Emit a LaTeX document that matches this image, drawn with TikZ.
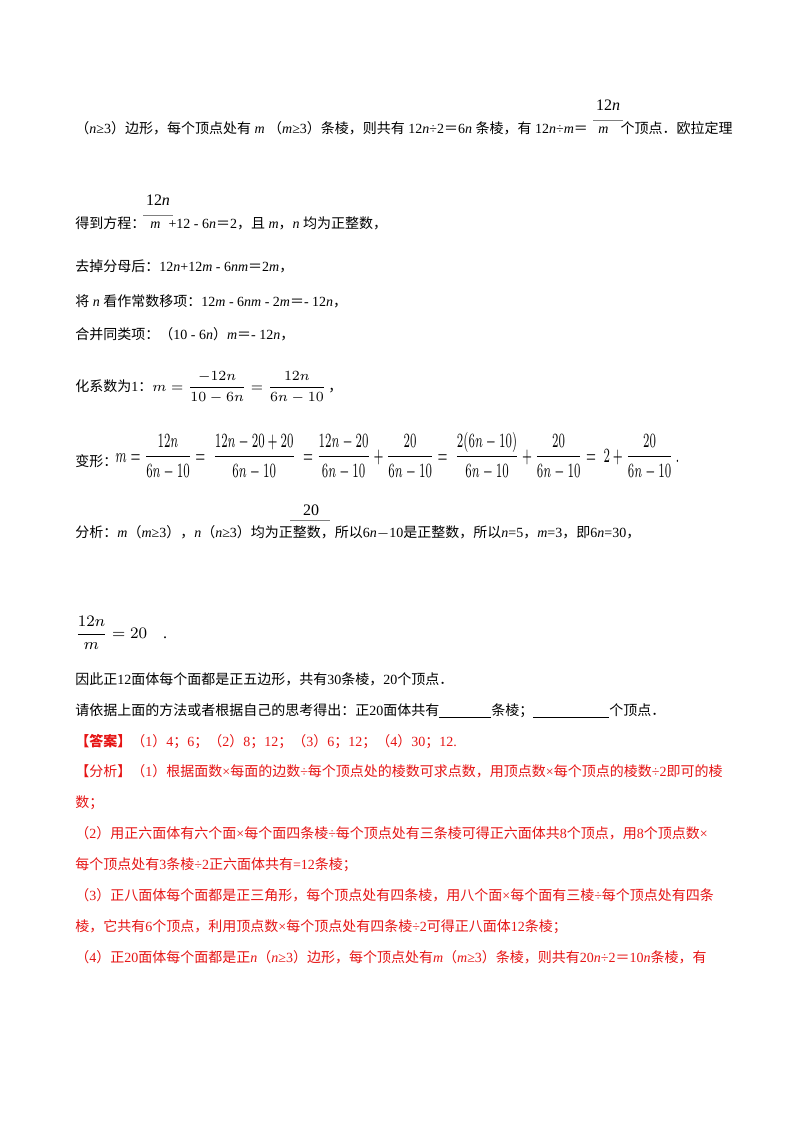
\documentclass[tikz,border=0pt]{standalone}
\usepackage{fontspec}
\usepackage{amsmath}
\usepackage{graphicx}
\setmainfont{Liberation Serif}
\newfontfamily\cjk{Noto Sans CJK SC}
\definecolor{ansred}{RGB}{230,20,20}
\newcommand{\ii}[1]{\textit{#1}}
\newcommand{\eqq}{{\cjk ＝}}
\begin{document}
\begin{tikzpicture}[x=0.5pt,y=-0.5pt,
  tl/.style={anchor=base west,inner sep=0pt,font=\fontsize{7}{8}\selectfont},
  rl/.style={tl,text=ansred},
  fr/.style={anchor=base,inner sep=0pt,font=\fontsize{8}{9}\selectfont}]
\useasboundingbox[fill=white] (0,0) rectangle (800,1132);
% line 1
\node[tl] (l1) at (75,133) {{\cjk （}\ii{n}≥3{\cjk ）边形，每个顶点处有} \ii{m} {\cjk （}\ii{m}≥3{\cjk ）条棱，则共有} 12\ii{n}÷2\eqq6\ii{n} {\cjk 条棱，有} 12\ii{n}÷\ii{m}\eqq};
\node[fr] (n1) at (608,110) {12\ii{n}};
\draw[gray,line width=0.4pt] (593,120) -- (623,120);
\node[tl] (l1b) at (598,133) {\ii{m}\hspace{6pt}{\cjk 个顶点．欧拉定理}};
% line 2
\node[fr] (n2) at (158,205) {12\ii{n}};
\draw[gray,line width=0.4pt] (143,215) -- (173,215);
\node[tl] (l2) at (75,228) {{\cjk 得到方程：}};
\node[tl] (l2b) at (150,228) {\ii{m}\hspace{4pt}+12 - 6\ii{n}\eqq2{\cjk ，且} \ii{m}{\cjk ，}\ii{n} {\cjk 均为正整数，}};
\node[tl] (l3) at (75,271) {{\cjk 去掉分母后：}12\ii{n}+12\ii{m} - 6\ii{nm}\eqq2\ii{m}{\cjk ，}};
\node[tl] (l4) at (75,306) {{\cjk 将} \ii{n} {\cjk 看作常数移项：}12\ii{m} - 6\ii{nm} - 2\ii{m}\eqq - 12\ii{n}{\cjk ，}};
\node[tl] (l5) at (75,339) {{\cjk 合并同类项：（}10 - 6\ii{n}{\cjk ）}\ii{m}\eqq - 12\ii{n}{\cjk ，}};
\node[tl] (l6) at (75,391) {{\cjk 化系数为}1{\cjk ：}$\displaystyle m=\frac{-12n}{10-6n}=\frac{12n}{6n-10}$\,{\cjk ，}};
% line 变形
\node[tl] (l7) at (75,466) {{\cjk 变形：}};
\node[tl] (l7b) at (115,462) {\resizebox{282pt}{15pt}{$\displaystyle m=\frac{12n}{6n-10}=\;\frac{12n-20+20}{6n-10}\;=\frac{12n-20}{6n-10}+\frac{20}{6n-10}=\;\frac{2(6n-10)}{6n-10}+\frac{20}{6n-10}=\;2+\frac{20}{6n-10}\,.$}};
% 分析
\node[fr] (n8) at (311,515) {20};
\draw[gray,line width=0.4pt] (290,520) -- (330,520);
\node[tl] (l8) at (75,537) {{\cjk 分析：}\ii{m}{\cjk （}\ii{m}≥3{\cjk ），}\ii{n}{\cjk （}\ii{n}≥3{\cjk ）均为正整数，所以}6\ii{n}$-$10{\cjk 是正整数，所以}\ii{n}=5{\cjk ，}\ii{m}=3{\cjk ，即}6\ii{n}=30{\cjk ，}};
\node[tl,font=\fontsize{8}{9}\selectfont] (l9) at (75,638) {$\displaystyle\frac{12n}{m}=20$\hspace{8pt}.};
\node[tl] (l10) at (75,684) {{\cjk 因此正}12{\cjk 面体每个面都是正五边形，共有}30{\cjk 条棱，}20{\cjk 个顶点．}};
\node[tl] (l11) at (75,715) {{\cjk 请依据上面的方法或者根据自己的思考得出：正}20{\cjk 面体共有}\underline{\hspace{26pt}}{\cjk 条棱；}\underline{\hspace{38pt}}{\cjk 个顶点．}};
\node[rl] (l12) at (75,746) {{\cjk\bfseries 【答案】}{\cjk （}1{\cjk ）}4{\cjk ；}6{\cjk ；（}2{\cjk ）}8{\cjk ；}12{\cjk ；（}3{\cjk ）}6{\cjk ；}12{\cjk ；（}4{\cjk ）}30{\cjk ；}12.};
\node[rl] (l13) at (75,776) {{\cjk 【分析】（}1{\cjk ）根据面数}×{\cjk 每面的边数}÷{\cjk 每个顶点处的棱数可求点数，用顶点数}×{\cjk 每个顶点的棱数}÷2{\cjk 即可的棱}};
\node[rl] (l14) at (75,807) {{\cjk 数；}};
\node[rl] (l15) at (75,838) {{\cjk （}2{\cjk ）用正六面体有六个面}×{\cjk 每个面四条棱}÷{\cjk 每个顶点处有三条棱可得正六面体共}8{\cjk 个顶点，用}8{\cjk 个顶点数}×};
\node[rl] (l16) at (75,869) {{\cjk 每个顶点处有}3{\cjk 条棱}÷2{\cjk 正六面体共有}=12{\cjk 条棱；}};
\node[rl] (l17) at (75,900) {{\cjk （}3{\cjk ）正八面体每个面都是正三角形，每个顶点处有四条棱，用八个面}×{\cjk 每个面有三棱}÷{\cjk 每个顶点处有四条}};
\node[rl] (l18) at (75,931) {{\cjk 棱，它共有}6{\cjk 个顶点，利用顶点数}×{\cjk 每个顶点处有四条棱}÷2{\cjk 可得正八面体}12{\cjk 条棱；}};
\node[rl] (l19) at (75,962) {{\cjk （}4{\cjk ）正}20{\cjk 面体每个面都是正}\ii{n}{\cjk （}\ii{n}≥3{\cjk ）边形，每个顶点处有}\ii{m}{\cjk （}\ii{m}≥3{\cjk ）条棱，则共有}20\ii{n}÷2\eqq10\ii{n}{\cjk 条棱，有}};
\end{tikzpicture}
\end{document}
